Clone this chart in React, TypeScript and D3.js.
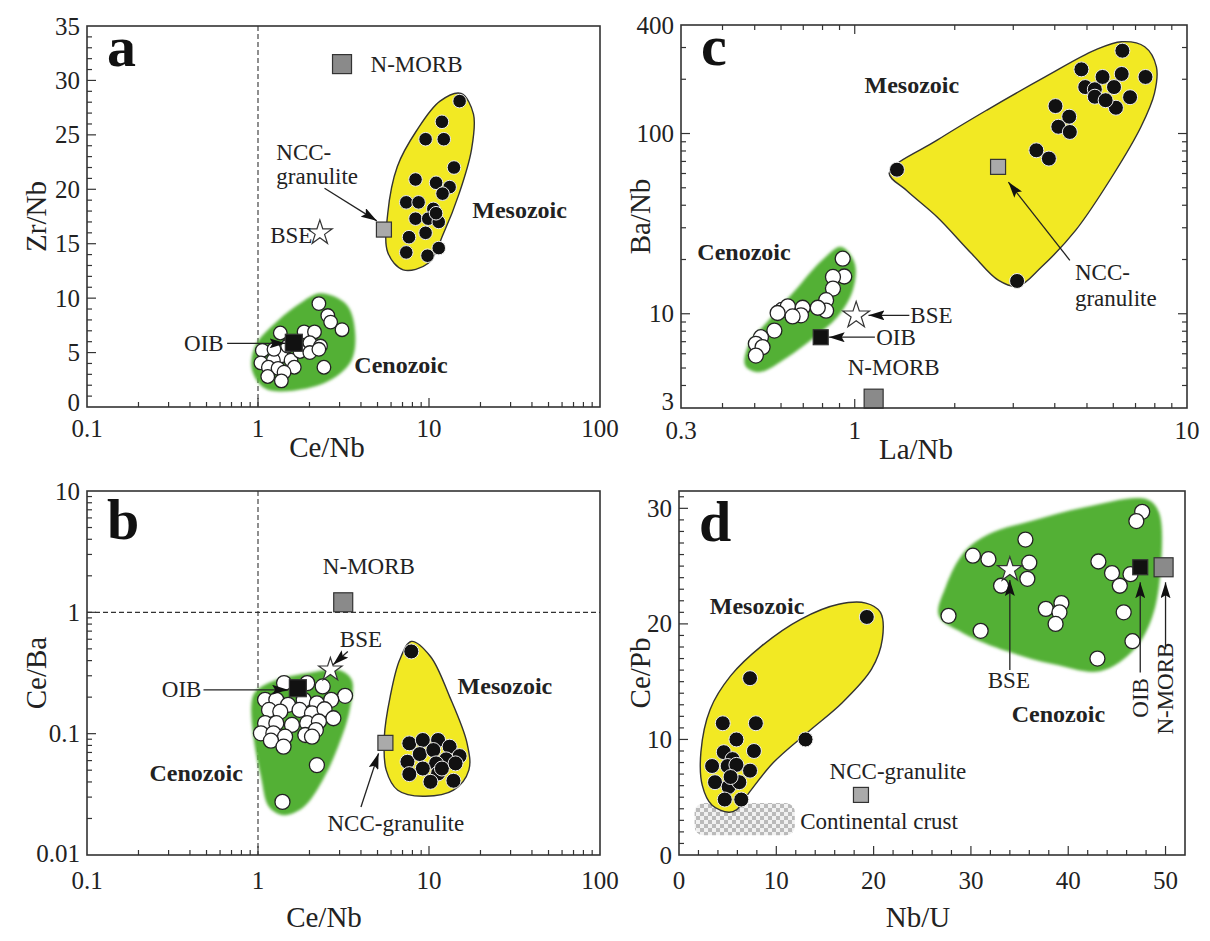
import React from "react";
import * as d3 from "d3";

type P = [number, number];

// ---------- Panel a : Zr/Nb vs Ce/Nb ----------
const aMesozoic: P[] = [[15.1,28.1],[11.9,26.2],[9.55,24.6],[12.2,24.6],[14.0,22.0],[8.34,20.9],[11.0,20.6],[13.2,20.2],[12.0,19.6],[7.36,18.8],[8.69,18.8],[10.6,18.2],[8.34,17.3],[9.9,17.3],[11.4,17.0],[7.64,15.6],[9.55,16.0],[7.36,14.2],[9.8,13.9],[11.4,14.6],[11.0,17.8]];
const aCenozoic: P[] = [[2.27,9.5],[2.56,8.4],[2.66,7.8],[3.1,7.1],[1.35,6.8],[1.86,6.9],[2.14,6.9],[2.01,5.9],[2.32,5.6],[1.06,5.2],[1.37,4.7],[1.23,4.3],[1.04,4.05],[1.15,3.65],[1.31,3.55],[1.56,4.3],[1.76,5.1],[2.01,5.0],[2.27,5.3],[1.63,3.65],[1.42,3.2],[1.14,2.8],[1.37,2.4],[2.43,3.65],[1.49,5.6],[1.24,5.3]];
const aMesoField: P[] = [[15.4,28.8],[18.2,26.9],[17.7,23.6],[15.0,19.6],[12.2,16.0],[9.9,13.2],[7.06,12.6],[5.74,14.2],[5.74,17.8],[6.53,22.1],[8.47,25.4],[11.6,28.1]];
const aCenoField: P[] = [[2.32,10.45],[3.3,9.4],[3.7,6.85],[3.5,4.2],[2.6,2.4],[1.61,1.5],[1.1,1.7],[0.92,3.5],[0.97,5.7],[1.3,7.9],[1.79,9.6]];
const aNMORB: P = [3.1, 31.5];
const aNCC: P = [5.45, 16.3];
const aBSE: P = [2.3, 16.0];
const aOIB: P = [1.62, 5.9];

// ---------- Panel b : Ce/Ba vs Ce/Nb ----------
const bMesozoic: P[] = [[7.88,0.476],[7.67,0.0832],[9.2,0.0887],[11.3,0.0887],[13.2,0.0781],[15.1,0.0654],[7.48,0.0587],[8.83,0.0679],[10.6,0.0733],[12.6,0.0614],[11.0,0.0569],[9.2,0.0516],[7.67,0.0464],[11.3,0.047],[13.9,0.0409],[10.2,0.0401],[11.9,0.0516],[14.3,0.0569]];
const bCenozoic: P[] = [[1.42,0.261],[1.94,0.261],[2.39,0.245],[3.23,0.205],[1.1,0.19],[1.28,0.19],[1.5,0.173],[1.85,0.19],[2.21,0.178],[2.68,0.19],[1.16,0.157],[1.35,0.152],[1.75,0.157],[2.07,0.147],[2.45,0.159],[2.76,0.134],[1.1,0.122],[1.28,0.122],[1.58,0.118],[1.94,0.122],[2.27,0.126],[1.04,0.1007],[1.23,0.1007],[1.44,0.0944],[1.89,0.0975],[2.18,0.107],[1.19,0.0875],[1.41,0.0781],[2.07,0.0944],[2.21,0.055],[1.39,0.0274]];
const bMesoField: P[] = [[7.88,0.576],[10.2,0.433],[13.2,0.202],[16.7,0.0832],[17.1,0.0501],[13.9,0.0342],[9.2,0.0305],[6.57,0.0342],[5.62,0.0501],[5.48,0.0944],[5.93,0.202],[6.74,0.406]];
const bCenoField: P[] = [[0.965,0.222],[1.28,0.278],[1.94,0.315],[2.94,0.336],[3.53,0.278],[3.44,0.157],[2.94,0.0781],[2.39,0.0414],[1.85,0.0249],[1.42,0.0213],[1.16,0.0249],[1.04,0.0441],[0.94,0.0944],[0.916,0.178]];
const bNMORB: P = [3.15, 1.21];
const bNCC: P = [5.56, 0.084];
const bBSE: P = [2.65, 0.336];
const bOIB: P = [1.71, 0.237];

// ---------- Panel c : Ba/Nb vs La/Nb ----------
const cMesozoic: P[] = [[1.34,63],[3.08,15.2],[3.52,80.7],[3.84,72.6],[4.02,142],[4.42,124],[4.1,109],[4.44,102],[4.81,227],[4.94,181],[5.28,176],[5.57,206],[6.03,181],[5.28,160],[6.36,214],[6.39,288],[6.74,159],[7.5,206],[6.11,139],[5.69,153]];
const cCenozoic: P[] = [[0.92,20.2],[0.93,16.1],[0.86,16.0],[0.86,13.8],[0.82,11.9],[0.82,10.4],[0.774,10.8],[0.697,10.8],[0.689,9.8],[0.604,10.5],[0.629,11.0],[0.65,9.66],[0.586,10.1],[0.573,8.07],[0.522,7.41],[0.504,6.81],[0.528,6.53],[0.504,5.86]];
const cMesoField: P[] = [[1.27,60.4],[1.77,91.8],[2.5,135],[3.74,206],[5.28,290],[6.36,323],[7.46,303],[8.09,234],[7.98,167],[7.27,109],[6.03,60],[4.62,29],[3.64,18.1],[3.1,14.2],[2.71,15.3],[2.25,21.5],[1.77,34.4],[1.43,48.4]];
const cCenoField: P[] = [[0.911,23.5],[1.0,19.0],[0.987,13.5],[0.887,9.58],[0.756,7.41],[0.628,5.74],[0.514,4.74],[0.468,5.16],[0.481,6.81],[0.55,9.18],[0.662,13.5],[0.797,19.8]];
const cNMORB: P = [1.14, 3.38];
const cNCC: P = [2.7, 65.3];
const cBSE: P = [1.01, 9.8];
const cOIB: P = [0.79, 7.41];

// ---------- Panel d : Ce/Pb vs Nb/U ----------
const dMesozoic: P[] = [[19.3,20.6],[7.3,15.3],[4.5,11.4],[7.9,11.4],[13.0,10.0],[5.9,10.0],[4.6,8.9],[7.7,9.0],[5.5,8.3],[3.4,7.7],[5.0,7.7],[5.9,7.8],[7.3,7.3],[3.7,6.3],[5.1,5.9],[6.2,6.3],[4.7,4.8],[6.4,4.8],[5.3,6.75]];
const dCenozoic: P[] = [[47.6,29.7],[47.0,28.9],[30.2,25.9],[31.8,25.6],[35.6,27.3],[36.0,25.3],[35.8,23.9],[33.1,23.3],[27.7,20.7],[31.0,19.4],[37.7,21.3],[39.3,21.8],[39.1,21.0],[38.7,20.0],[43.0,17.0],[43.1,25.4],[44.5,24.4],[45.3,23.3],[46.4,24.3],[45.7,21.0],[46.6,18.5]];
const dMesoField: P[] = [[5.1,3.7],[3.4,4.3],[2.4,6.0],[2.25,8.9],[3.2,12.6],[5.3,15.5],[8.5,18.1],[12.5,20.4],[16.4,21.7],[19.2,21.8],[20.7,21.0],[20.9,18.7],[19.8,16.1],[16.8,13.2],[13.2,10.6],[9.7,8.0],[7.3,5.5],[5.9,3.9]];
const dCenoField: P[] = [[26.7,20.7],[27.4,23.2],[29.4,26.3],[32.2,27.9],[36.2,28.9],[41.7,30.1],[48.0,30.8],[49.3,29.7],[49.5,24.7],[48.6,20.5],[46.8,17.8],[43.3,15.9],[38.5,16.5],[33.8,17.6],[29.2,19.2]];
const dCrust: [P, P] = [[1.6, 1.7], [11.9, 4.5]];
const dNMORB: P = [49.8, 24.9];
const dNCC: P = [18.7, 5.2];
const dBSE: P = [34.0, 24.7];
const dOIB: P = [47.4, 24.9];

// ---------- tick labels ----------
const aXTicks = [0.1, 1, 10, 100];
const aYTicks = [0, 5, 10, 15, 20, 25, 30, 35];
const bXTicks = [0.1, 1, 10, 100];
const bYTicks = [0.01, 0.1, 1, 10];
const cXTicks = [0.3, 1, 10];
const cYTicks = [3, 10, 100, 400];
const dXTicks = [0, 10, 20, 30, 40, 50];
const dYTicks = [0, 10, 20, 30];

const FONT = '"Liberation Serif", "Times New Roman", serif';
const YELLOW = "#f2e923";
const GREEN = "#52b034";

type Sc = (v: number) => number;

function logMinors(lo: number, hi: number): number[] {
  const out: number[] = [];
  for (let e = Math.floor(Math.log10(lo)) - 1; e <= Math.ceil(Math.log10(hi)); e++) {
    for (let m = 1; m <= 9; m++) {
      const v = m * Math.pow(10, e);
      if (v > lo * 1.0001 && v < hi * 0.9999) out.push(v);
    }
  }
  return out;
}
function linMinors(lo: number, hi: number, step: number): number[] {
  const out: number[] = [];
  for (let v = lo; v <= hi + 1e-9; v += step) out.push(+v.toFixed(6));
  return out;
}

interface Spec {
  x0: number; x1: number; y0: number; y1: number;
  x: any; y: any;
  xTicks: number[]; yTicks: number[];
  xMinor: number[]; yMinor: number[];
  isMajorX: (v: number) => boolean; isMajorY: (v: number) => boolean;
  allSides: boolean;
  letter: string; letterBase: number;
  xTitle: string; yTitle: string; xTitleX: number; yTitleX: number;
  labelDy: number; titleDy: number; bottomLift: number;
}

function Frame({ s }: { s: Spec }) {
  const { x0, x1, y0, y1, x, y } = s;
  const els: React.ReactNode[] = [];
  s.xMinor.forEach((v, i) => {
    const px = x(v);
    const L = s.isMajorX(v) ? 9 : 5;
    els.push(<line key={"xb" + i} x1={px} x2={px} y1={y1} y2={y1 - L} stroke="#333" strokeWidth={1.2} />);
    if (s.allSides) els.push(<line key={"xt" + i} x1={px} x2={px} y1={y0} y2={y0 + L} stroke="#333" strokeWidth={1.2} />);
  });
  s.yMinor.forEach((v, i) => {
    const py = y(v);
    const L = s.isMajorY(v) ? 9 : 5;
    els.push(<line key={"yl" + i} x1={x0} x2={x0 + L} y1={py} y2={py} stroke="#333" strokeWidth={1.2} />);
    if (s.allSides) els.push(<line key={"yr" + i} x1={x1} x2={x1 - L} y1={py} y2={py} stroke="#333" strokeWidth={1.2} />);
  });
  const lowest = Math.min(...s.yTicks);
  return (
    <g>
      <rect x={x0} y={y0} width={x1 - x0} height={y1 - y0} fill="none" stroke="#333" strokeWidth={1.6} />
      {els}
      {s.xTicks.map((v, i) => (
        <text key={"xl" + i} x={x(v)} y={y1 + s.labelDy} textAnchor="middle" fontSize={25} fontFamily={FONT} fill="#222">{String(v)}</text>
      ))}
      {s.yTicks.map((v, i) => (
        <text key={"yl" + i} x={x0 - 7} y={y(v) - (v === lowest ? s.bottomLift : 0)} textAnchor="end" dominantBaseline="central" fontSize={25} fontFamily={FONT} fill="#222">{String(v)}</text>
      ))}
      <text x={s.xTitleX} y={y1 + s.titleDy} textAnchor="middle" fontSize={29} fontFamily={FONT} fill="#222">{s.xTitle}</text>
      <text transform={`translate(${s.yTitleX},${(y0 + y1) / 2}) rotate(-90)`} textAnchor="middle" dominantBaseline="central" fontSize={29} fontFamily={FONT} fill="#222">{s.yTitle}</text>
      <text x={x0 + 20} y={s.letterBase} fontSize={58} fontWeight="bold" fontFamily={FONT} fill="#111">{s.letter}</text>
    </g>
  );
}

function Dots({ pts, x, y, r, black }: { pts: P[]; x: Sc; y: Sc; r: number; black: boolean }) {
  return (
    <g>
      {pts.map((p, i) => (
        <circle key={i} cx={x(p[0])} cy={y(p[1])} r={r}
          fill={black ? "#111" : "#fff"} stroke={black ? "#eee" : "#222"} strokeWidth={black ? 1 : 1.3} />
      ))}
    </g>
  );
}

function Square({ p, x, y, size, fill }: { p: P; x: Sc; y: Sc; size: number; fill: string }) {
  return <rect x={x(p[0]) - size / 2} y={y(p[1]) - size / 2} width={size} height={size} fill={fill} stroke="#333" strokeWidth={1.2} />;
}

function Star({ p, x, y, size }: { p: P; x: Sc; y: Sc; size: number }) {
  const d = d3.symbol().type(d3.symbolStar).size(size)() || "";
  return <path d={d} transform={`translate(${x(p[0])},${y(p[1])})`} fill="#fff" stroke="#333" strokeWidth={1.2} />;
}

function Arrow({ from, to, x, y }: { from: P; to: P; x: Sc; y: Sc }) {
  return <line x1={x(from[0])} y1={y(from[1])} x2={x(to[0])} y2={y(to[1])} stroke="#222" strokeWidth={1.3} markerEnd="url(#ah)" />;
}

function Label({ p, x, y, text, anchor = "start", bold = false, size = 23, rotate = false }:
  { p: P; x: Sc; y: Sc; text: string; anchor?: string; bold?: boolean; size?: number; rotate?: boolean }) {
  const tx = x(p[0]), ty = y(p[1]);
  return (
    <text transform={rotate ? `translate(${tx},${ty}) rotate(-90)` : `translate(${tx},${ty})`}
      textAnchor={anchor as any} dominantBaseline="central" fontSize={size}
      fontWeight={bold ? "bold" : "normal"} fontFamily={FONT} fill="#222">{text}</text>
  );
}

function Field({ pts, x, y, fill, outline }: { pts: P[]; x: Sc; y: Sc; fill: string; outline: boolean }) {
  const line = d3.line<P>().x(d => x(d[0])).y(d => y(d[1])).curve(d3.curveCatmullRomClosed.alpha(0.5));
  return <path d={line(pts) || ""} fill={fill} stroke={outline ? "#333" : "none"} strokeWidth={1.4}
    filter={outline ? undefined : "url(#soft)"} />;
}

export default function App() {
  const isDecade = (v: number) => Math.abs(Math.log10(v) - Math.round(Math.log10(v))) < 1e-6;
  // panel a
  const ax = d3.scaleLog().domain([0.1, 100]).range([87, 600]);
  const ay = d3.scaleLinear().domain([0, 35]).range([407, 26]);
  const sa: Spec = {
    x0: 87, x1: 600, y0: 26, y1: 407, x: ax, y: ay,
    xTicks: aXTicks, yTicks: aYTicks,
    xMinor: logMinors(0.1, 100), yMinor: linMinors(1, 34, 1),
    isMajorX: isDecade, isMajorY: v => v % 5 === 0, allSides: false,
    letter: "a", letterBase: 26 + 40, xTitle: "Ce/Nb", yTitle: "Zr/Nb", xTitleX: 327, yTitleX: 36,
    labelDy: 30, titleDy: 50, bottomLift: 5,
  };
  // panel b
  const bx = d3.scaleLog().domain([0.1, 100]).range([87, 600]);
  const by = d3.scaleLog().domain([0.01, 10]).range([855, 491]);
  const sb: Spec = {
    x0: 87, x1: 600, y0: 491, y1: 855, x: bx, y: by,
    xTicks: bXTicks, yTicks: bYTicks,
    xMinor: logMinors(0.1, 100), yMinor: logMinors(0.01, 10),
    isMajorX: isDecade, isMajorY: isDecade, allSides: false,
    letter: "b", letterBase: 491 + 48, xTitle: "Ce/Nb", yTitle: "Ce/Ba", xTitleX: 324, yTitleX: 36,
    labelDy: 34, titleDy: 72, bottomLift: 2,
  };
  // panel c
  const cx = d3.scaleLog().domain([0.3, 10]).range([681, 1187]);
  const cy = d3.scaleLog().domain([3, 400]).range([408, 25]);
  const sc: Spec = {
    x0: 681, x1: 1187, y0: 25, y1: 408, x: cx, y: cy,
    xTicks: cXTicks, yTicks: cYTicks,
    xMinor: logMinors(0.3, 10), yMinor: logMinors(3, 400),
    isMajorX: isDecade, isMajorY: isDecade, allSides: true,
    letter: "c", letterBase: 25 + 40, xTitle: "La/Nb", yTitle: "Ba/Nb", xTitleX: 916, yTitleX: 640,
    labelDy: 31, titleDy: 51, bottomLift: 7,
  };
  // panel d
  const dx = d3.scaleLinear().domain([0, 52]).range([679, 1185]);
  const dy = d3.scaleLinear().domain([0, 31.5]).range([855, 491]);
  const sd: Spec = {
    x0: 679, x1: 1185, y0: 491, y1: 855, x: dx, y: dy,
    xTicks: dXTicks, yTicks: dYTicks,
    xMinor: linMinors(2, 50, 2), yMinor: linMinors(1, 31, 1),
    isMajorX: v => v % 10 === 0, isMajorY: v => v % 10 === 0, allSides: false,
    letter: "d", letterBase: 491 + 50, xTitle: "Nb/U", yTitle: "Ce/Pb", xTitleX: 918, yTitleX: 640,
    labelDy: 34, titleDy: 72, bottomLift: 0,
  };

  return (
    <svg width={1210} height={941} style={{ display: "block", position: "absolute", left: 0, top: 0, background: "#fff" }}>
      <defs>
        <marker id="ah" viewBox="0 0 16 10" refX={16} refY={5} markerWidth={16} markerHeight={10} markerUnits="userSpaceOnUse" orient="auto">
          <path d="M0,0 L16,5 L0,10 L3,5 z" fill="#111" />
        </marker>
        <filter id="soft" x="-10%" y="-10%" width="120%" height="120%">
          <feGaussianBlur stdDeviation={1.6} />
        </filter>
        <pattern id="checker" width={8} height={8} patternUnits="userSpaceOnUse">
          <rect width={8} height={8} fill="#eeeeee" />
          <rect width={4} height={4} fill="#a9a9a9" />
          <rect x={4} y={4} width={4} height={4} fill="#a9a9a9" />
        </pattern>
      </defs>
      <rect width={1210} height={941} fill="#fff" />

      {/* ---------------- panel a ---------------- */}
      <g>
        <line x1={ax(1)} x2={ax(1)} y1={26} y2={407} stroke="#333" strokeWidth={1.1} strokeDasharray="5,3" />
        <Field pts={aCenoField} x={ax} y={ay} fill={GREEN} outline={false} />
        <Field pts={aMesoField} x={ax} y={ay} fill={YELLOW} outline={true} />
        <Dots pts={aCenozoic} x={ax} y={ay} r={6.8} black={false} />
        <Dots pts={aMesozoic} x={ax} y={ay} r={6.8} black={true} />
        <Square p={aNMORB} x={ax} y={ay} size={19} fill="#8a8a8a" />
        <Square p={aNCC} x={ax} y={ay} size={15} fill="#aaaaaa" />
        <Square p={aOIB} x={ax} y={ay} size={17} fill="#111" />
        <Star p={aBSE} x={ax} y={ay} size={190} />
        <Label p={[4.55, 31.5]} x={ax} y={ay} text="N-MORB" />
        <Label p={[1.28, 23.4]} x={ax} y={ay} text="NCC-" />
        <Label p={[1.28, 21.2]} x={ax} y={ay} text="granulite" />
        <Arrow from={[2.45, 20.1]} to={[4.95, 17.1]} x={ax} y={ay} />
        <Label p={[2.08, 15.8]} x={ax} y={ay} text="BSE" anchor="end" />
        <Label p={[0.63, 5.85]} x={ax} y={ay} text="OIB" anchor="end" />
        <Arrow from={[0.66, 5.85]} to={[1.45, 5.85]} x={ax} y={ay} />
        <Label p={[17.9, 18.1]} x={ax} y={ay} text="Mesozoic" bold size={24} />
        <Label p={[3.66, 3.9]} x={ax} y={ay} text="Cenozoic" bold size={24} />
        <Frame s={sa} />
      </g>

      {/* ---------------- panel b ---------------- */}
      <g>
        <line x1={bx(1)} x2={bx(1)} y1={491} y2={855} stroke="#333" strokeWidth={1.1} strokeDasharray="5,3" />
        <line x1={87} x2={600} y1={by(1)} y2={by(1)} stroke="#333" strokeWidth={1.1} strokeDasharray="5,3" />
        <Field pts={bCenoField} x={bx} y={by} fill={GREEN} outline={false} />
        <Field pts={bMesoField} x={bx} y={by} fill={YELLOW} outline={true} />
        <Dots pts={bCenozoic} x={bx} y={by} r={7.5} black={false} />
        <Dots pts={bMesozoic} x={bx} y={by} r={7.5} black={true} />
        <Square p={bNMORB} x={bx} y={by} size={19} fill="#8a8a8a" />
        <Square p={bNCC} x={bx} y={by} size={15} fill="#aaaaaa" />
        <Square p={bOIB} x={bx} y={by} size={17} fill="#111" />
        <Star p={bBSE} x={bx} y={by} size={170} />
        <Label p={[4.45, 2.4]} x={bx} y={by} text="N-MORB" anchor="middle" />
        <Label p={[4.0, 0.594]} x={bx} y={by} text="BSE" anchor="middle" />
        <Arrow from={[3.35, 0.476]} to={[2.75, 0.37]} x={bx} y={by} />
        <Label p={[0.467, 0.23]} x={bx} y={by} text="OIB" anchor="end" />
        <Arrow from={[0.48, 0.23]} to={[1.5, 0.23]} x={bx} y={by} />
        <Label p={[6.4, 0.0182]} x={bx} y={by} text="NCC-granulite" anchor="middle" />
        <Arrow from={[4.0, 0.0249]} to={[5.07, 0.0688]} x={bx} y={by} />
        <Label p={[14.7, 0.245]} x={bx} y={by} text="Mesozoic" bold size={24} />
        <Label p={[0.232, 0.047]} x={bx} y={by} text="Cenozoic" bold size={24} />
        <Frame s={sb} />
      </g>

      {/* ---------------- panel c ---------------- */}
      <g>
        <Field pts={cCenoField} x={cx} y={cy} fill={GREEN} outline={false} />
        <Field pts={cMesoField} x={cx} y={cy} fill={YELLOW} outline={true} />
        <Dots pts={cCenozoic} x={cx} y={cy} r={7.5} black={false} />
        <Dots pts={cMesozoic} x={cx} y={cy} r={7.5} black={true} />
        <Square p={cNMORB} x={cx} y={cy} size={19} fill="#8a8a8a" />
        <Square p={cNCC} x={cx} y={cy} size={15} fill="#aaaaaa" />
        <Square p={cOIB} x={cx} y={cy} size={15} fill="#111" />
        <Star p={cBSE} x={cx} y={cy} size={220} />
        <Label p={[1.07, 186]} x={cx} y={cy} text="Mesozoic" bold size={24} />
        <Label p={[0.336, 22]} x={cx} y={cy} text="Cenozoic" bold size={24} />
        <Label p={[4.6, 17.0]} x={cx} y={cy} text="NCC-" />
        <Label p={[4.6, 12.1]} x={cx} y={cy} text="granulite" />
        <Arrow from={[4.44, 19.8]} to={[2.9, 53.8]} x={cx} y={cy} />
        <Label p={[1.47, 9.8]} x={cx} y={cy} text="BSE" />
        <Arrow from={[1.46, 9.8]} to={[1.1, 9.8]} x={cx} y={cy} />
        <Label p={[1.16, 7.41]} x={cx} y={cy} text="OIB" />
        <Arrow from={[1.15, 7.41]} to={[0.835, 7.41]} x={cx} y={cy} />
        <Label p={[1.31, 5.06]} x={cx} y={cy} text="N-MORB" anchor="middle" />
        <Frame s={sc} />
      </g>

      {/* ---------------- panel d ---------------- */}
      <g>
        <rect x={dx(dCrust[0][0])} y={dy(dCrust[1][1])} width={dx(dCrust[1][0]) - dx(dCrust[0][0])}
          height={dy(dCrust[0][1]) - dy(dCrust[1][1])} rx={9} fill="url(#checker)" opacity={0.8} />
        <Field pts={dCenoField} x={dx} y={dy} fill={GREEN} outline={false} />
        <Field pts={dMesoField} x={dx} y={dy} fill={YELLOW} outline={true} />
        <Dots pts={dCenozoic} x={dx} y={dy} r={7.5} black={false} />
        <Dots pts={dMesozoic} x={dx} y={dy} r={7.5} black={true} />
        <Square p={dNMORB} x={dx} y={dy} size={19} fill="#8a8a8a" />
        <Square p={dNCC} x={dx} y={dy} size={15} fill="#aaaaaa" />
        <Square p={dOIB} x={dx} y={dy} size={15} fill="#111" />
        <Star p={dBSE} x={dx} y={dy} size={190} />
        <Label p={[3.16, 21.55]} x={dx} y={dy} text="Mesozoic" bold size={24} />
        <Label p={[34.2, 12.2]} x={dx} y={dy} text="Cenozoic" bold size={24} />
        <Label p={[22.5, 7.2]} x={dx} y={dy} text="NCC-granulite" anchor="middle" />
        <Label p={[12.45, 2.87]} x={dx} y={dy} text="Continental crust" />
        <Label p={[33.9, 15.1]} x={dx} y={dy} text="BSE" anchor="middle" />
        <Arrow from={[34.0, 16.0]} to={[34.0, 23.8]} x={dx} y={dy} />
        <Label p={[47.4, 13.6]} x={dx} y={dy} text="OIB" anchor="middle" rotate />
        <Arrow from={[47.4, 15.8]} to={[47.4, 23.6]} x={dx} y={dy} />
        <Label p={[50.0, 14.4]} x={dx} y={dy} text="N-MORB" anchor="middle" rotate />
        <Arrow from={[50.0, 17.8]} to={[50.0, 23.6]} x={dx} y={dy} />
        <Frame s={sd} />
      </g>
    </svg>
  );
}
